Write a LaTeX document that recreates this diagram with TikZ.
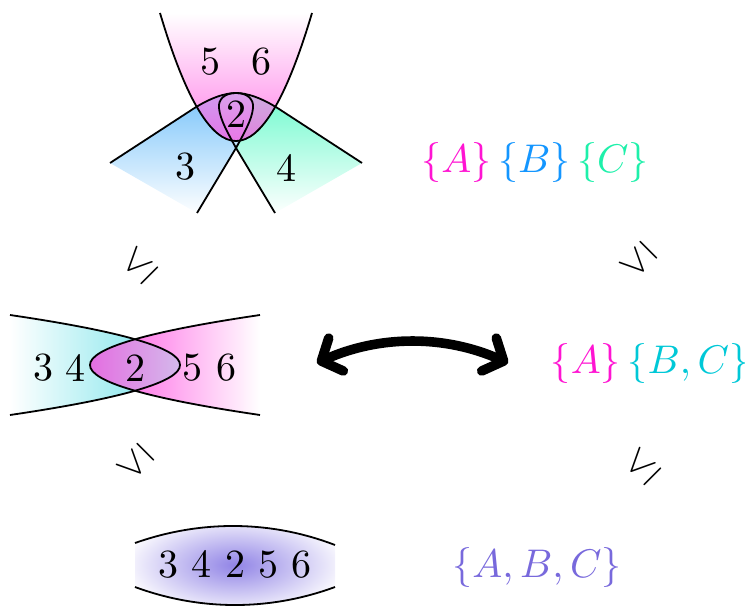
\documentclass[tikz,border=0pt]{standalone}
\usepackage{graphicx}
\usetikzlibrary{arrows.meta}
\definecolor{magA}{RGB}{255,20,210}
\definecolor{bluB}{RGB}{20,150,255}
\definecolor{grnC}{RGB}{30,240,170}
\definecolor{cyBC}{RGB}{0,200,215}
\definecolor{purABC}{RGB}{120,105,220}
\definecolor{tongueBlue}{RGB}{120,195,250}
\definecolor{tongueGreen}{RGB}{110,250,205}
\definecolor{loopMix}{RGB}{150,215,245}
\definecolor{loopLow}{RGB}{200,228,250}
\definecolor{paraMag}{RGB}{255,60,220}
\definecolor{midCyan}{RGB}{110,225,232}
\definecolor{midMag}{RGB}{255,80,225}
\definecolor{lensL}{RGB}{228,110,225}
\definecolor{lensR}{RGB}{212,185,235}
\definecolor{botPur}{RGB}{145,132,230}
\begin{document}
\begin{tikzpicture}[x=0.25pt,y=-0.25pt,
  outline/.style={line width=0.45pt},
  lbl/.style={inner sep=0pt, font=\fontsize{10}{12}\selectfont},
  relsym/.style={inner sep=0pt},
  bluetongue/.style={insert path={(110,163) -- (193,109) .. controls (210,98) and (225,93) .. (236,93) .. controls (247,93) and (254,99) .. (253,108) .. controls (252,120) and (243,135) .. (236,148) -- (197,213)}},
  greentongue/.style={insert path={(362,163) -- (279,109) .. controls (262,98) and (247,93) .. (236,93) .. controls (225,93) and (218,99) .. (219,108) .. controls (220,120) and (229,135) .. (236,148) -- (275,213)}},
  parab/.style={insert path={(160,13) .. controls (210.7,183.7) and (261.3,183.7) .. (312,13)}},
  cyantongue/.style={insert path={(10,315) .. controls (236.7,348.3) and (236.7,381.7) .. (10,415)}},
  magtongue/.style={insert path={(260,315) .. controls (33.3,348.3) and (33.3,381.7) .. (260,415)}},
  bigarrow/.style={line width=2.4pt, line cap=round, line join=round,
    {Straight Barb[round,length=4pt,width=9pt]}-{Straight Barb[round,length=4pt,width=9pt]}}
]
\useasboundingbox (0,0) rectangle (745,607);

% ---------- top figure ----------
\begin{scope}
  \clip[bluetongue] -- cycle;
  \shade[top color=tongueBlue, bottom color=white] (100,90) rectangle (262,215);
\end{scope}
\begin{scope}
  \clip[greentongue] -- cycle;
  \shade[top color=tongueGreen, bottom color=white] (210,90) rectangle (372,215);
\end{scope}
\begin{scope}
  \clip[bluetongue] -- cycle;
  \clip[greentongue] -- cycle;
  \shade[top color=loopMix, bottom color=loopLow] (212,90) rectangle (260,150);
\end{scope}
\begin{scope}
  \clip[parab] -- cycle;
  \shade[top color=white, bottom color=paraMag, fill opacity=0.65] (150,13) rectangle (322,142);
\end{scope}
\draw[outline, bluetongue];
\draw[outline, greentongue];
\draw[outline, parab];

\node[lbl] (t5) at (210,62) {5};
\node[lbl] (t6) at (261,62) {6};
\node[lbl] (t2) at (236,114) {2};
\node[lbl] (t3) at (185,167) {3};
\node[lbl] (t4) at (286,168) {4};

% ---------- middle figure ----------
\begin{scope}
  \clip[cyantongue] -- cycle;
  \shade[left color=white, right color=midCyan] (10,310) rectangle (180,420);
\end{scope}
\begin{scope}
  \clip[magtongue] -- cycle;
  \shade[left color=midMag, right color=white] (90,310) rectangle (260,420);
\end{scope}
\begin{scope}
  \clip[cyantongue] -- cycle;
  \clip[magtongue] -- cycle;
  \shade[left color=lensL, right color=lensR] (90,330) rectangle (180,400);
\end{scope}
\draw[outline, cyantongue];
\draw[outline, magtongue];

\node[lbl] (m3) at (43,368) {3};
\node[lbl] (m4) at (75,368) {4};
\node[lbl] (m2) at (135,368) {2};
\node[lbl] (m5) at (192,368) {5};
\node[lbl] (m6) at (226,368) {6};

% ---------- bottom figure ----------
\begin{scope}
  \clip (135,543) .. controls (200,520) and (270,520) .. (335,545) -- (335,587)
        .. controls (270,611) and (200,611) .. (135,587) -- cycle;
  \shade[inner color=botPur, outer color=white] (235,565) ellipse [x radius=115, y radius=52];
\end{scope}
\draw[outline] (135,543) .. controls (200,520) and (270,520) .. (335,545);
\draw[outline] (135,587) .. controls (200,611) and (270,611) .. (335,587);
\node[lbl] (b) at (235,564) {3 4 2 5 6};

% ---------- right column ----------
\node[lbl] (abc1) at (535,163) {$\color{magA}\{A\}\,\color{bluB}\{B\}\,\color{grnC}\{C\}$};
\node[lbl] (abc2) at (650,363) {$\color{magA}\{A\}\,\color{cyBC}\{B,C\}$};
\node[lbl] (abc3) at (537,567) {$\color{purABC}\{A,B,C\}$};

% ---------- relation symbols ----------
\node[relsym] (r1) at (139,265) {\rotatebox{45}{$\leq$}};
\node[relsym] (r2) at (638,261) {\rotatebox{135}{$\leq$}};
\node[relsym] (r3) at (135,463) {\rotatebox{135}{$\leq$}};
\node[relsym] (r4) at (642,466) {\rotatebox{45}{$\leq$}};

% ---------- arrow ----------
\coordinate (al) at (317,363);
\coordinate (ar) at (508,363);
\draw[bigarrow] (al) .. controls (380,335) and (445,335) .. (ar);
\end{tikzpicture}
\end{document}
